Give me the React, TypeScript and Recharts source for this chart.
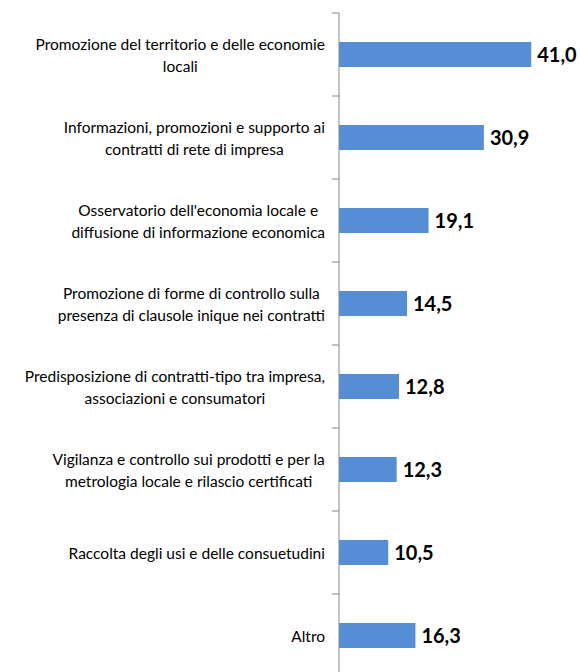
import { Bar, BarChart, XAxis, YAxis, LabelList } from "recharts"

// categorie (dall'alto verso il basso), testo a capo come nel grafico
const categorie = [
  ["Promozione del territorio e delle economie", "locali"],
  ["Informazioni, promozioni e supporto ai", "contratti di rete di impresa"],
  ["Osservatorio dell'economia locale e", "diffusione di informazione economica"],
  ["Promozione di forme di controllo sulla", "presenza di clausole inique nei contratti"],
  ["Predisposizione di contratti-tipo tra impresa,", "associazioni e consumatori"],
  ["Vigilanza e controllo sui prodotti e per la", "metrologia locale e rilascio certificati"],
  ["Raccolta degli usi e delle consuetudini"],
  ["Altro"],
]

const valori = [41.0, 30.9, 19.1, 14.5, 12.8, 12.3, 10.5, 16.3]

const data = categorie.map((righe, i) => ({
  name: righe.join("\n"),
  valore: valori[i],
}))

const FONT = "Lato, 'Open Sans', sans-serif"
const TICK_SIZE = 15.5
const BAND_HALF = 41.5

// misura il testo per centrare il blocco di righe
let ctx: CanvasRenderingContext2D | null = null
function larghezza(t: string) {
  if (!ctx) ctx = document.createElement("canvas").getContext("2d")
  if (!ctx) return t.length * 7
  ctx.font = `${TICK_SIZE}px ${FONT}`
  return ctx.measureText(t).width
}

// etichetta dell'asse su più righe, centrata
function CategoryTick(props: any) {
  const { x, y, payload } = props
  const righe: string[] = String(payload.value).split("\n")
  const lineH = 22
  const startY = y - ((righe.length - 1) * lineH) / 2
  const blockRight = x - 14
  const maxW = Math.max(...righe.map(larghezza))
  const cx = blockRight - maxW / 2
  return (
    <g>
      <line x1={x - 7} x2={x} y1={y - BAND_HALF} y2={y - BAND_HALF} stroke="#868686" strokeWidth={1} />
      <text x={cx} y={startY} textAnchor="middle" fontFamily={FONT} fontSize={TICK_SIZE} fill="#000">
        {righe.map((r, i) => (
          <tspan key={i} x={cx} y={startY + i * lineH} dominantBaseline="central">
            {r}
          </tspan>
        ))}
      </text>
    </g>
  )
}

const formatValore = (v: number) => v.toFixed(1).replace(".", ",")

export default function App() {
  return (
    <div style={{ position: "absolute", left: 0, top: 0, width: 580, height: 672, overflow: "hidden", background: "#fff" }}>
      <BarChart
        width={580}
        height={690}
        data={data}
        layout="vertical"
        margin={{ top: 13, right: 30, bottom: 13, left: 0 }}
      >
        <XAxis type="number" domain={[0, 45]} hide />
        <YAxis
          type="category"
          dataKey="name"
          width={339}
          axisLine={{ stroke: "#868686" }}
          tickLine={false}
          tickSize={0}
          tickMargin={0}
          tick={<CategoryTick />}
          interval={0}
        />
        <Bar dataKey="valore" fill="#558ED5" barSize={25} isAnimationActive={false}>
          <LabelList
            dataKey="valore"
            position="right"
            offset={6}
            formatter={(v: any) => formatValore(Number(v))}
            style={{ fontFamily: FONT, fontSize: 20, fontWeight: 700, fill: "#000" }}
          />
        </Bar>
      </BarChart>
    </div>
  )
}
